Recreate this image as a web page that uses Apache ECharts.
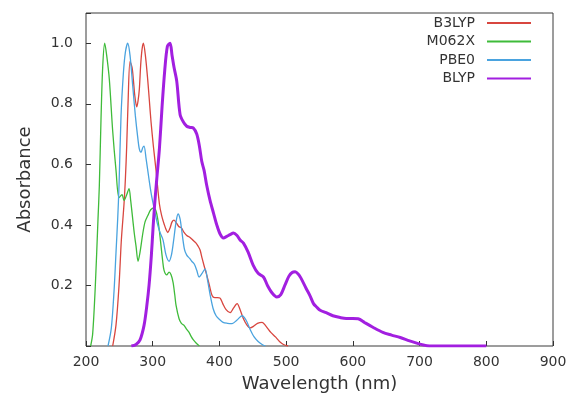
<!DOCTYPE html>
<html>
<head>
<meta charset="utf-8">
<script src="https://cdn.jsdelivr.net/npm/echarts@6/dist/echarts.min.js"></script>
<style>html,body{margin:0;padding:0;background:#fff;}#c{width:568px;height:396px;}</style>
</head>
<body>
<div id="c"></div>
<script>
const seriesNames = ['B3LYP', 'M062X', 'PBE0', 'BLYP'];
const xTicks = [200, 300, 400, 500, 600, 700, 800, 900];
const yTicks = [0.2, 0.4, 0.6, 0.8, 1.0];

const b3lypX = [240,245,249.5,253,257,259,261,263,266,269,271,273,276,278,280,282,284,286,289,292.5,295,297.5,301,305,310,313.5,317.5,320,322.5,326,329,332,336,339,343,347,351,355,360,365,368,371,374,377,381,385,389,393,397,401,405,410,416,421,426.5,431,436,441,446,451,457,464,470,477,484,490,496,503];
const b3lypY = [0,0.07,0.2,0.35,0.47,0.55,0.66,0.8,0.94,0.92,0.88,0.83,0.79,0.81,0.85,0.93,0.98,1.0,0.96,0.88,0.81,0.74,0.66,0.58,0.47,0.43,0.4,0.385,0.375,0.39,0.41,0.416,0.405,0.395,0.39,0.375,0.365,0.36,0.35,0.34,0.33,0.317,0.29,0.265,0.234,0.2,0.167,0.16,0.16,0.158,0.14,0.12,0.11,0.125,0.14,0.12,0.09,0.07,0.06,0.065,0.075,0.078,0.065,0.045,0.03,0.015,0.005,0];

const m062xX = [207,210,214,218,220,222.5,225,228,231,235,240,245,249.5,254,257,261,264.5,267,270,272.5,275,278,281,285,288.5,292.5,297,302,305,307.5,310,312.5,315,317,321,324.5,327.5,330.5,333,335,339.5,343,347,351,354.5,358,361,365,370];
const m062xY = [0,0.04,0.2,0.42,0.53,0.75,0.92,1.0,0.96,0.88,0.71,0.58,0.49,0.5,0.48,0.5,0.52,0.48,0.42,0.37,0.33,0.28,0.31,0.37,0.41,0.43,0.45,0.456,0.445,0.42,0.38,0.33,0.28,0.25,0.235,0.244,0.235,0.21,0.17,0.134,0.09,0.075,0.068,0.055,0.045,0.03,0.02,0.01,0];

const pbe0X = [233,238,242,245,247.5,249.5,252.5,256,259,262.5,266,270,274,277.5,280,282.5,285,287,290,294.5,298,302,307.5,311,315.5,320,324.5,328,331,335,338,341,343,347.5,351,355,358.5,362.5,366,369.5,374,378.5,382,386,390.5,395,400,405.5,412,419,426,434,440,446,452,458,464,469];
const pbe0Y = [0,0.06,0.18,0.31,0.42,0.53,0.76,0.9,0.97,1.0,0.96,0.86,0.76,0.69,0.65,0.64,0.655,0.66,0.62,0.55,0.5,0.456,0.4,0.375,0.35,0.3,0.28,0.3,0.343,0.41,0.436,0.42,0.39,0.32,0.3,0.29,0.28,0.27,0.25,0.228,0.24,0.255,0.22,0.17,0.124,0.1,0.088,0.078,0.075,0.074,0.085,0.1,0.085,0.055,0.03,0.015,0.005,0];

const blypX = [268,275,281,287,291,294.5,298,300.5,303,306,310,314,318,322,326,329,332,336,341,346,351,356,361,366,370,373.5,377,381,386,391,396,401,406,411,416,421,426,431,436,443,450.5,458,466,472,479,486,492,498,504,509,513.5,518,522,530,536,541,546,551,560,570,581,590,600,608,618,630,645,658,671,685,698,711,720,760,800];
const blypY = [0,0.005,0.02,0.068,0.13,0.2,0.3,0.39,0.47,0.55,0.65,0.79,0.91,0.99,1.0,0.96,0.92,0.875,0.765,0.74,0.726,0.722,0.72,0.7,0.66,0.61,0.58,0.53,0.48,0.44,0.4,0.37,0.357,0.362,0.368,0.373,0.366,0.35,0.34,0.31,0.267,0.24,0.228,0.2,0.175,0.162,0.17,0.2,0.23,0.243,0.245,0.238,0.225,0.19,0.165,0.14,0.128,0.118,0.11,0.1,0.094,0.091,0.091,0.09,0.077,0.062,0.045,0.036,0.028,0.017,0.008,0.001,0,0,0];

const colors = ['#d8463f', '#3fbb3a', '#4aa3df', '#a21fe0'];
const widths = [1.3, 1.3, 1.3, 3];
const xs = [b3lypX, m062xX, pbe0X, blypX];
const ys = [b3lypY, m062xY, pbe0Y, blypY];

const font = 'DejaVu Sans';
const chart = echarts.init(document.getElementById('c'), null, {renderer: 'canvas'});
chart.setOption({
  animation: false,
  backgroundColor: '#ffffff',
  grid: {left: 86, right: 15, top: 13, bottom: 50, show: true, borderColor: '#3a3a3a', borderWidth: 1,
    containLabel: false, outerBoundsMode: 'none'},
  legend: {
    orient: 'vertical', right: 31, top: 11, align: 'right',
    itemWidth: 44, itemHeight: 14, itemGap: 4.5,
    data: seriesNames,
    itemStyle: {opacity: 0},
    textStyle: {fontFamily: font, fontSize: 14, color: '#333', padding: [0, 7, 0, 0]}
  },
  xAxis: {
    type: 'value', min: 200, max: 900, interval: 100,
    name: 'Wavelength (nm)', nameLocation: 'middle', nameGap: 29,
    nameTextStyle: {fontFamily: font, fontSize: 18, color: '#333'},
    axisLine: {show: false},
    axisTick: {show: true, inside: true, length: 5, lineStyle: {color: '#333'}},
    splitLine: {show: false},
    axisLabel: {fontFamily: font, fontSize: 14, color: '#333', margin: 9,
      formatter: v => xTicks.includes(v) ? String(v) : ''}
  },
  yAxis: {
    type: 'value', min: 0, max: 1.1, interval: 0.2,
    name: 'Absorbance', nameLocation: 'middle', nameGap: 52,
    nameTextStyle: {fontFamily: font, fontSize: 18, color: '#333'},
    axisLine: {show: false},
    axisTick: {show: true, inside: true, length: 5, lineStyle: {color: '#333'}},
    splitLine: {show: false},
    axisLabel: {fontFamily: font, fontSize: 14, color: '#333', margin: 13,
      formatter: v => { const t = yTicks.find(q => Math.abs(q - v) < 1e-6); return t !== undefined ? t.toFixed(1) : ''; }}
  },
  series: seriesNames.map((n, i) => ({
    name: n, type: 'line', symbol: 'none', smooth: 0.3,
    data: xs[i].map((x, j) => [x, ys[i][j]]),
    lineStyle: {color: colors[i], width: widths[i]},
    itemStyle: {color: colors[i]},
    z: i === 3 ? 3 : 2
  }))
});
</script>
</body>
</html>
